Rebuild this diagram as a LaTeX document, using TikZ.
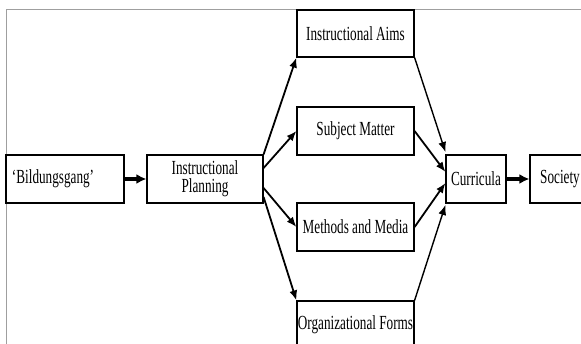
\documentclass[tikz,border=0pt]{standalone}
\usepackage{fontspec}
\setmainfont[FakeStretch=0.66]{Liberation Serif}
\usetikzlibrary{arrows.meta}

\tikzset{
  stage/.style={draw=black, line width=1.2pt, rectangle, inner sep=0pt,
    minimum height=48pt, font=\fontsize{20}{18}\selectfont, align=center},
  flow/.style={line width=1.8pt, -{Latex[length=10pt,width=8pt]}},
  lightflow/.style={line width=1.4pt, -{Latex[length=10pt,width=8pt]}},
  bigflow/.style={line width=3.2pt, -{Latex[length=10pt,width=10pt]}},
}

\begin{document}
\begin{tikzpicture}[x=1pt, y=-1pt]
  \useasboundingbox (0,0) rectangle (581,344);
  \clip (0,0) rectangle (581,344);
  \fill[white] (0,0) rectangle (581,344);

  % open frame along the top and left
  \draw[gray!75, line width=1pt] (6,350) -- (6,10) -- (590,10);

  % stages
  \node[stage, minimum width=118pt, text width=106pt, inner xsep=6pt, align=left]
    (bild) at (65,179) {`Bildungsgang'};
  \node[stage, minimum width=116pt] (plan) at (205,179) {Instructional\\Planning};
  \node[stage, minimum width=117pt, minimum height=47pt] (aims) at (355.5,33.5) {Instructional Aims};
  \node[stage, minimum width=117pt] (subj) at (355.5,131) {Subject Matter};
  \node[stage, minimum width=117pt] (meth) at (355.5,227) {Methods and Media};
  \node[stage, minimum width=117pt] (orgf) at (355.5,325) {Organizational Forms};
  \node[stage, minimum width=60pt] (curr) at (476,179) {Curricula};
  \node[stage, minimum width=60pt] (soc) at (560,179) {Society};

  % main line
  \draw[bigflow] (bild.east) -- (plan.west);
  \draw[bigflow] (curr.east) -- (soc.west);

  % fan out from planning
  \draw[flow] (plan.north east) -- (aims.south west);
  \draw[flow] ([yshift=11pt]plan.east) -- (subj.west);
  \draw[flow] ([yshift=-9pt]plan.east) -- (meth.west);
  \draw[flow] ([yshift=-18pt]plan.east) -- (orgf.north west);

  % fan in to curricula
  \draw[lightflow] (aims.south east) -- ([yshift=27pt]curr.west);
  \draw[flow] (subj.east) -- ([yshift=7pt]curr.west);
  \draw[flow] (meth.east) -- ([yshift=-4pt]curr.west);
  \draw[lightflow] (orgf.north east) -- ([yshift=-26pt]curr.west);
\end{tikzpicture}
\end{document}
